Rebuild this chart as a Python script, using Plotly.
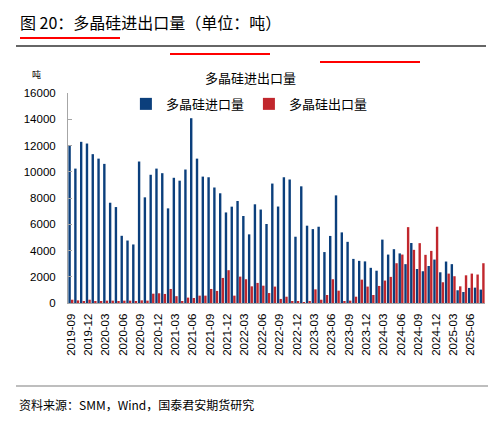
import plotly.graph_objects as go

BLUE = "#0b3f7c"
RED = "#c1272d"
AXIS = "#a6a6a6"
CJK = "Noto Sans CJK SC, Noto Sans, sans-serif"
NUM = "Liberation Sans, Arial, sans-serif"

months = []
for year in range(2019, 2026):
    for m in range(1, 13):
        if (year == 2019 and m < 9) or (year == 2025 and m > 8):
            continue
        months.append(f"{year}-{m:02d}")

# 多晶硅进口量 (吨)
imports = [
    11975, 10240, 12280, 12150, 11340, 11000, 10600, 7640, 7310, 5120, 4760, 4460,
    10780, 8050, 9770, 10240, 9890, 7210, 9540, 9320, 10170, 14080, 11000, 9630,
    9580, 8800, 8360, 6900, 7340, 7770, 6630, 5230, 7520, 7120, 6020, 9100,
    7350, 9580, 9410, 5050, 8890, 5890, 5630, 5810, 3880, 5110, 8200, 5380,
    4660, 3360, 3210, 3170, 2680, 2460, 4830, 3690, 4100, 3780, 2960, 4570,
    2590, 2420, 2820, 3310, 2340, 3160, 2960, 970, 840, 1150, 1170, 1020,
]

# 多晶硅出口量 (吨)
exports = [
    250, 200, 80, 250, 130, 80, 180, 180, 100, 180, 180, 130,
    200, 180, 710, 740, 690, 1070, 520, 150, 410, 380, 560, 560,
    1070, 920, 1910, 2500, 560, 2010, 1810, 1270, 1530, 1320, 760, 1250,
    310, 480, 100, 130, 50, 150, 1040, 250, 610, 1810, 940, 130,
    180, 480, 1780, 1250, 610, 1300, 1710, 1990, 3030, 3690, 5780, 4050,
    4560, 3670, 3970, 5810, 1580, 2240, 2040, 1270, 2110, 2240, 2170, 3030,
]

tick_labels = months[::3]

W, H = 493, 426
L, R, T, B = 68, 8, 93, 123
PW, PH = W - L - R, H - T - B


def px(x):
    return (x - L) / PW


def py(y):
    return (H - B - y) / PH


fig = go.Figure()

fig.add_trace(
    go.Bar(
        x=months,
        y=imports,
        name="多晶硅进口量",
        marker=dict(color=BLUE, line=dict(width=0))
    )
)

fig.add_trace(
    go.Bar(
        x=months,
        y=exports,
        name="多晶硅出口量",
        marker=dict(color=RED, line=dict(width=0))
    )
)

fig.update_layout(
    width=W,
    height=H,
    paper_bgcolor="white",
    plot_bgcolor="white",
    barmode="group",
    bargap=0.1,
    bargroupgap=0.08,
    margin=dict(l=L, r=R, t=T, b=B),
    font=dict(family=CJK, color="#000000", size=11),
    showlegend=True,
    legend=dict(
        orientation="h",
        x=0.435,
        xanchor="center",
        y=0.948,
        yanchor="middle",
        bgcolor="rgba(0,0,0,0)",
        font=dict(size=13, family=CJK, color="#000000"),
        itemwidth=30,
        traceorder="normal"
    )
)

fig.update_xaxes(
    type="category",
    tickmode="array",
    tickvals=tick_labels,
    ticktext=tick_labels,
    tickangle=-90,
    tickfont=dict(size=11.5, family=NUM, color="#000000"),
    showline=True,
    linecolor=AXIS,
    linewidth=1,
    showgrid=False,
    ticks="outside",
    ticklen=5,
    tickcolor="rgba(0,0,0,0)",
    range=[-0.5, len(months) - 0.5]
)

fig.update_yaxes(
    range=[0, 16000],
    tickvals=[0, 2000, 4000, 6000, 8000, 10000, 12000, 14000, 16000],
    tickformat="d",
    tickfont=dict(size=11.5, family=NUM, color="#000000"),
    ticklabelstandoff=9,
    showline=True,
    linecolor=AXIS,
    linewidth=1,
    showgrid=False,
    zeroline=False,
    ticks="inside",
    ticklen=4,
    tickcolor=AXIS
)

fig.add_annotation(
    text="图 20：多晶硅进出口量（单位：吨）",
    xref="paper", yref="paper",
    x=px(18), y=py(22),
    xanchor="left", yanchor="middle",
    showarrow=False,
    font=dict(size=16, family=CJK, color="#000000")
)

fig.add_annotation(
    text="多晶硅进出口量",
    xref="paper", yref="paper",
    x=px(250), y=py(77),
    xanchor="center", yanchor="middle",
    showarrow=False,
    font=dict(size=13, family=CJK, color="#000000")
)

fig.add_annotation(
    text="吨",
    xref="paper", yref="paper",
    x=px(36), y=py(74),
    xanchor="center", yanchor="middle",
    showarrow=False,
    font=dict(size=9, family=CJK, color="#000000")
)

fig.add_annotation(
    text="资料来源：SMM，Wind，国泰君安期货研究",
    xref="paper", yref="paper",
    x=px(17), y=py(404),
    xanchor="left", yanchor="middle",
    showarrow=False,
    font=dict(size=12, family=CJK, color="#000000")
)

# title rule, with three short test strokes to see where the band is hidden
fig.add_shape(
    type="line", xref="paper", yref="paper",
    x0=px(16), x1=px(486),
    y0=py(46), y1=py(46),
    line=dict(color="#333333", width=1.5)
)
for i, yy in enumerate([38, 54, 62]):
    fig.add_shape(
        type="line", xref="paper", yref="paper",
        x0=px(20 + i * 150), x1=px(120 + i * 150),
        y0=py(yy), y1=py(yy),
        line=dict(color="red", width=2)
    )

# footer rule
fig.add_shape(
    type="line", xref="paper", yref="paper",
    x0=px(16), x1=px(488),
    y0=py(386), y1=py(386),
    line=dict(color="#7f7f7f", width=1.2)
)

fig.write_html(
    "out.html",
    config={"displayModeBar": False},
    post_script="document.body.style.margin='0';document.body.style.overflow='hidden';"
)
